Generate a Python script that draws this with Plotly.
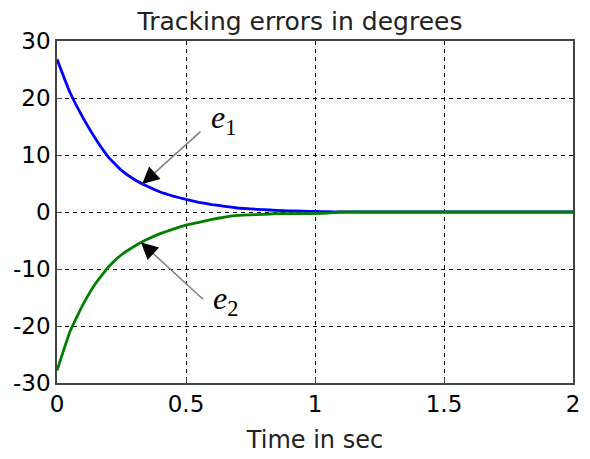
import plotly.graph_objects as go

# ---- data ----
t = [0, 0.05, 0.1, 0.15, 0.2, 0.25, 0.3, 0.35, 0.4, 0.45, 0.5, 0.55, 0.6, 0.65,
     0.7, 0.75, 0.8, 0.85, 0.9, 0.95, 1.0, 1.05, 1.1, 1.2, 1.3, 1.4, 1.5, 1.6,
     1.7, 1.8, 1.9, 2.0]
e1 = [26.8, 21.0, 16.6, 12.8, 9.6, 7.3, 5.7, 4.5, 3.5, 2.8, 2.2, 1.7, 1.3, 1.0,
      0.7, 0.55, 0.4, 0.3, 0.2, 0.15, 0.1, 0.05, 0.0, 0.0, 0.0, 0.0, 0.0, 0.0,
      0.0, 0.0, 0.0, 0.0]
e2 = [-27.8, -21.0, -16.3, -12.5, -9.6, -7.5, -6.0, -4.8, -3.8, -3.0, -2.3, -1.8,
      -1.3, -0.9, -0.6, -0.5, -0.4, -0.3, -0.3, -0.3, -0.3, -0.2, 0.0, 0.0, 0.0,
      0.0, 0.0, 0.0, 0.0, 0.0, 0.0, 0.0]
x_ticks = [0, 0.5, 1, 1.5, 2]
x_tick_labels = ["0", "0.5", "1", "1.5", "2"]
y_ticks = [-30, -20, -10, 0, 10, 20, 30]
y_tick_labels = ["-30", "-20", "-10", "0", "10", "20", "30"]

FONT = "DejaVu Sans"

fig = go.Figure()
fig.add_trace(go.Scatter(x=t, y=e1, mode="lines", line=dict(color="#0000FF", width=2.8, shape="spline", smoothing=0.3)))
fig.add_trace(go.Scatter(x=t, y=e2, mode="lines", line=dict(color="#008000", width=2.8, shape="spline", smoothing=0.3)))

axis_common = dict(
    showline=True, linecolor="#444444", linewidth=1.5, mirror=True,
    showgrid=True, gridcolor="black", gridwidth=1, griddash="4px,4px",
    zeroline=False, ticks="inside", ticklen=5, tickcolor="#444444",
    tickfont=dict(family=FONT, size=23, color="black"),
)

fig.update_xaxes(range=[0, 2], tickvals=x_ticks, ticktext=x_tick_labels,
                 title=dict(text="Time in sec", font=dict(family=FONT, size=24, color="#222222"), standoff=15),
                 **axis_common)
fig.update_yaxes(range=[-30, 30], tickvals=y_ticks, ticktext=y_tick_labels, **axis_common)

# arrows: grey shaft (shape) + black head (annotation)
arrows = [((0.33, 4.9), (0.556, 14.1)), ((0.325, -5.3), (0.566, -15.3))]
for (tx, ty), (sx, sy) in arrows:
    fig.add_shape(type="line", x0=sx, y0=sy, x1=tx, y1=ty, xref="x", yref="y",
                  line=dict(color="#808080", width=1.5))
    fig.add_annotation(x=tx, y=ty, ax=sx, ay=sy, axref="x", ayref="y", xref="x", yref="y",
                       showarrow=True, arrowhead=2, arrowsize=1.7, arrowwidth=2, arrowcolor="black",
                       standoff=0, startstandoff=68, text="")

fig.add_annotation(x=0.645, y=16.3, xref="x", yref="y", showarrow=False,
                   text="<i>e</i><sub>1</sub>", font=dict(family="Liberation Serif", size=32, color="black"))
fig.add_annotation(x=0.655, y=-15.5, xref="x", yref="y", showarrow=False,
                   text="<i>e</i><sub>2</sub>", font=dict(family="Liberation Serif", size=32, color="black"))

fig.update_layout(
    width=590, height=459,
    margin=dict(l=57, r=10, t=41, b=74),
    paper_bgcolor="white", plot_bgcolor="white",
    showlegend=False,
    title=dict(text="Tracking errors in degrees", x=300 / 590, xanchor="center",
               y=1 - 21 / 459, yanchor="middle", yref="container",
               font=dict(family=FONT, size=25, color="#222222")),
)

fig.write_html("out.html")
